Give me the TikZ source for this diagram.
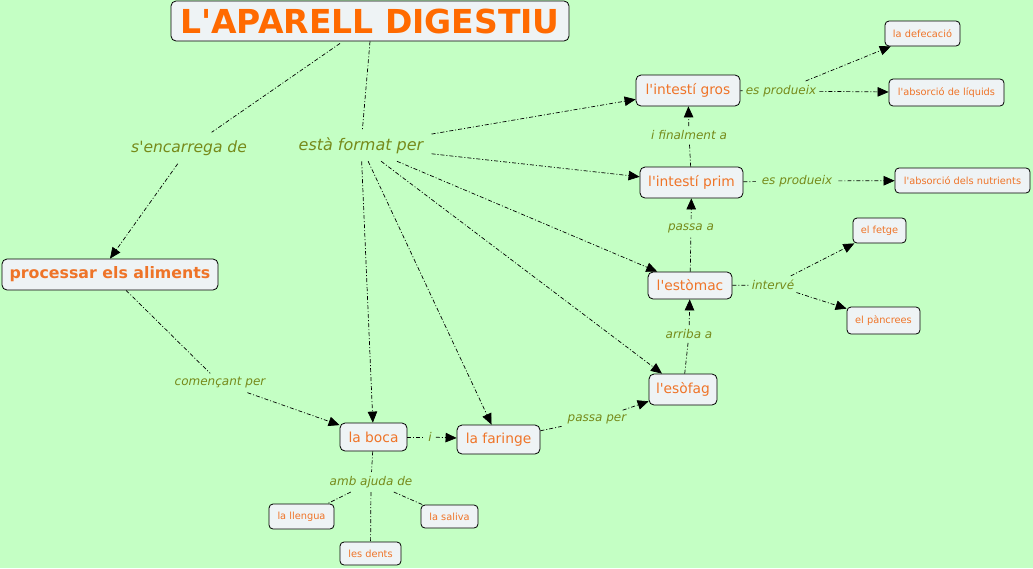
\documentclass[tikz,border=0pt]{standalone}
\usepackage{fontspec}
\setmainfont{DejaVu Sans}
\newfontfamily\dvs{DejaVu Sans}
\usetikzlibrary{arrows.meta}
\definecolor{bgc}{HTML}{C4FFC4}
\definecolor{boxc}{HTML}{EEF3F5}
\definecolor{txtc}{HTML}{EE7428}
\definecolor{ttlc}{HTML}{FF6A00}
\definecolor{lblc}{HTML}{768A1A}
\tikzset{
  concept/.style={draw=black, fill=boxc, rounded corners=5pt, line width=0.8pt, text=txtc, inner sep=0pt, align=center},
  big/.style={concept, font=\fontsize{13.8}{16}\selectfont},
  small/.style={concept, font=\fontsize{9.8}{11}\selectfont, rounded corners=4pt},
  phrase/.style={text=lblc, inner xsep=6pt, inner ysep=4pt},
  lbls/.style={phrase, font=\itshape\fontsize{12}{14}\selectfont},
  lnk/.style={draw=black, line width=0.7pt, dash pattern=on 4pt off 2pt on 1pt off 2pt},
  arr/.style={lnk, -{Triangle[length=11pt,width=9.5pt]}},
}
\begin{document}
\begin{tikzpicture}[x=1pt,y=-1pt]
\dvs
\fill[bgc] (0,0) rectangle (1033,568);
\useasboundingbox (0,0) rectangle (1033,568);
% concepts
\node[concept, minimum width=398pt, minimum height=40pt, font=\bfseries\fontsize{33}{36}\selectfont, text=ttlc] (title) at (370,21) {L'APARELL DIGESTIU};
\node[concept, minimum width=216pt, minimum height=31pt, font=\bfseries\fontsize{15.8}{18}\selectfont] (proc) at (110,274.5) {processar els aliments};
\node[big, minimum width=104pt, minimum height=31pt] (gros) at (688,90.5) {l'intestí gros};
\node[big, minimum width=103pt, minimum height=31pt] (prim) at (691.5,182.5) {l'intestí prim};
\node[big, minimum width=84pt, minimum height=27pt] (esto) at (690,285.5) {l'estòmac};
\node[big, minimum width=68pt, minimum height=31pt] (esof) at (683,389.5) {l'esòfag};
\node[big, minimum width=67pt, minimum height=28pt] (boca) at (373.5,437) {la boca};
\node[big, minimum width=83pt, minimum height=29pt] (far) at (498.5,439.5) {la faringe};
\node[small, minimum width=75pt, minimum height=25pt] (defe) at (922.5,33.5) {la defecació};
\node[small, minimum width=115pt, minimum height=27pt] (liq) at (946.5,92.5) {l'absorció de líquids};
\node[small, minimum width=135pt, minimum height=25pt] (nutr) at (962.5,180.5) {l'absorció dels nutrients};
\node[small, minimum width=53pt, minimum height=25pt] (fetge) at (879.5,230.5) {el fetge};
\node[small, minimum width=73pt, minimum height=27pt] (panc) at (883.5,320.5) {el pàncrees};
\node[small, minimum width=65pt, minimum height=25pt] (lleng) at (301.5,516.5) {la llengua};
\node[small, minimum width=57pt, minimum height=23pt] (sal) at (449.5,516.5) {la saliva};
\node[small, minimum width=61pt, minimum height=23pt] (dents) at (370.5,553.5) {les dents};
% phrases
\node[phrase, font=\itshape\fontsize{15.5}{17}\selectfont, inner ysep=8pt] (senc) at (189,148) {s'encarrega de};
\node[phrase, font=\itshape\fontsize{16}{18}\selectfont, inner xsep=8pt, inner ysep=7pt] (form) at (361,146) {està format per};
\node[lbls] (comen) at (220,383) {començant per};
\node[lbls, inner xsep=4pt] (pi) at (430,437) {i};
\node[lbls] (pper) at (597,419) {passa per};
\node[lbls] (arr) at (689,334) {arriba a};
\node[lbls] (pa) at (691,228) {passa a};
\node[lbls] (fin) at (689,135) {i finalment a};
\node[lbls, inner xsep=3pt] (prod1) at (781,91) {es produeix};
\node[lbls] (prod2) at (797,181) {es produeix};
\node[lbls, inner xsep=2pt] (interv) at (773,285) {intervé};
\node[lbls] (amb) at (371,482) {amb ajuda de};
% links
\draw[lnk] (title.south) ++(-30,2) coordinate (t1) -- (senc);
\draw[arr] (senc) -- (proc.north);
\draw[lnk] (title.south) -- (form);
\draw[arr] (form) -- (gros);
\draw[arr] (form) -- (prim);
\draw[arr] (form) -- (esto);
\draw[arr] (form) -- (esof);
\draw[arr] (form) -- (far);
\draw[arr] (form) -- (boca);
\draw[lnk] (proc) -- (comen);
\draw[arr] (comen) -- (boca);
\draw[lnk] (boca) -- (pi);
\draw[arr] (pi) -- (far);
\draw[lnk] (far) -- (pper);
\draw[arr] (pper) -- (esof);
\draw[lnk] (esof) -- (arr);
\draw[arr] (arr) -- (esto);
\draw[lnk] (esto) -- (pa);
\draw[arr] (pa) -- (prim);
\draw[lnk] (prim) -- (fin);
\draw[arr] (fin) -- (gros);
\draw[lnk] (gros) -- (prod1);
\draw[arr] (prod1) -- (defe);
\draw[arr] (prod1) -- (liq);
\draw[lnk] (prim) -- (prod2);
\draw[arr] (prod2) -- (nutr);
\draw[lnk] (esto) -- (interv);
\draw[arr] (interv) -- (fetge);
\draw[arr] (interv) -- (panc);
\draw[lnk] (boca) -- (amb);
\draw[lnk] (amb) -- (lleng);
\draw[lnk] (amb) -- (sal);
\draw[lnk] (amb) -- (dents);
\end{tikzpicture}
\end{document}
